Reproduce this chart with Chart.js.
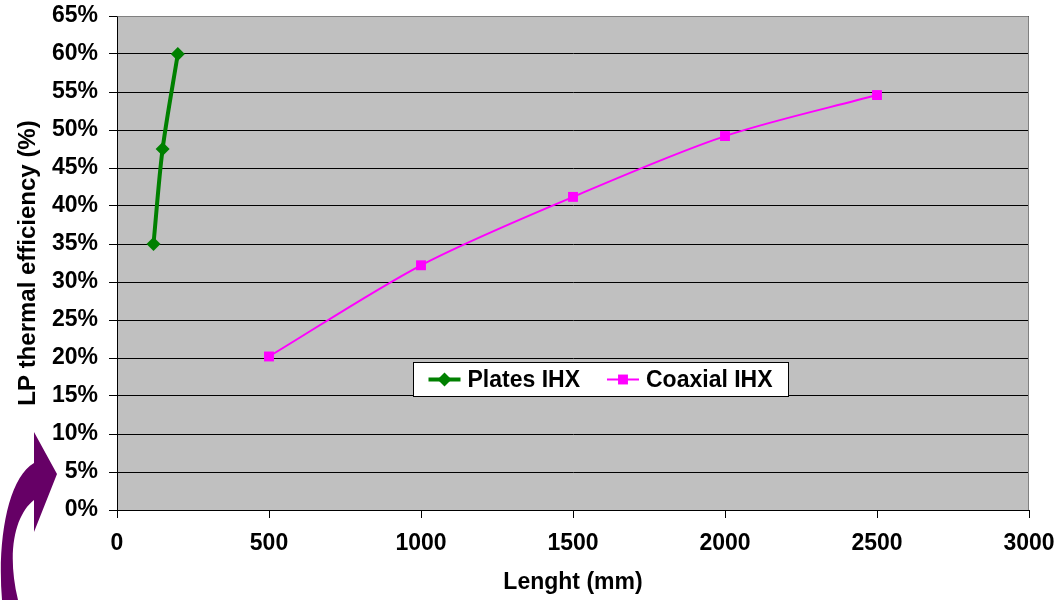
<!DOCTYPE html>
<html>
<head>
<meta charset="utf-8">
<script src="https://cdn.jsdelivr.net/npm/chart.js@4/dist/chart.umd.min.js"></script>
<style>
  html, body { margin: 0; padding: 0; background: #ffffff; }
  #wrap { width: 1063px; height: 600px; position: relative; }
</style>
</head>
<body>
<div id="wrap"><canvas id="c" width="1063" height="600"></canvas></div>
<script>
// Heat exchanger length (mm) against LP thermal efficiency (%)
const platesLength = [120, 150, 200];
const platesEfficiency = [35, 47.5, 60];
const coaxialLength = [500, 1000, 1500, 2000, 2500];
const coaxialEfficiency = [20.2, 32.2, 41.2, 49.2, 54.6];
const seriesNames = ['Plates IHX', 'Coaxial IHX'];
const xTitle = 'Lenght (mm)';
const yTitle = 'LP thermal efficiency (%)';

const FONT = "'Liberation Sans', Arial, sans-serif";

function pairs(xs, ys) { return xs.map((x, i) => ({ x: x, y: ys[i] })); }

// Grey plotting surface with a thin frame on the top and right
const plotBackground = {
  id: 'plotBackground',
  beforeDraw(chart) {
    const { ctx, chartArea: a } = chart;
    ctx.save();
    ctx.fillStyle = '#c0c0c0';
    ctx.fillRect(a.left, a.top, a.right - a.left, a.bottom - a.top);
    ctx.restore();
  },
  afterDatasetsDraw(chart) {
    const { ctx, chartArea: a } = chart;
    ctx.save();
    ctx.strokeStyle = '#808080';
    ctx.lineWidth = 1;
    ctx.beginPath();
    ctx.moveTo(Math.round(a.left) + 0.5, Math.round(a.top) + 0.5);
    ctx.lineTo(Math.round(a.right) - 0.5, Math.round(a.top) + 0.5);
    ctx.lineTo(Math.round(a.right) - 0.5, Math.round(a.bottom));
    ctx.stroke();
    ctx.restore();
  }
};

// Boxed legend sitting inside the plot area
const innerLegend = {
  id: 'innerLegend',
  afterDraw(chart) {
    const { ctx, chartArea: a } = chart;
    const w = a.right - a.left, h = a.bottom - a.top;
    const bx = Math.round(a.left + w * 0.325) + 0.5;
    const by = Math.round(a.top + h * 0.700) + 0.5;
    const bw = 375, bh = 34;
    ctx.save();
    ctx.fillStyle = '#ffffff';
    ctx.fillRect(bx, by, bw, bh);
    ctx.strokeStyle = '#000000';
    ctx.lineWidth = 1;
    ctx.strokeRect(bx, by, bw, bh);
    ctx.font = 'bold 23px ' + FONT;
    ctx.textBaseline = 'middle';
    ctx.textAlign = 'left';
    const cy = by + bh / 2;
    let x = bx + 15;
    chart.data.datasets.forEach((ds) => {
      ctx.strokeStyle = ds.borderColor;
      ctx.lineWidth = ds.borderWidth;
      ctx.beginPath();
      ctx.moveTo(x, cy);
      ctx.lineTo(x + 32, cy);
      ctx.stroke();
      ctx.fillStyle = ds.pointBackgroundColor;
      const r = ds.pointRadius;
      ctx.beginPath();
      if (ds.pointStyle === 'rectRot') {
        ctx.moveTo(x + 16, cy - r);
        ctx.lineTo(x + 16 + r, cy);
        ctx.lineTo(x + 16, cy + r);
        ctx.lineTo(x + 16 - r, cy);
        ctx.closePath();
      } else {
        const s = r * Math.SQRT1_2;
        ctx.rect(x + 16 - s, cy - s, 2 * s, 2 * s);
      }
      ctx.fill();
      ctx.fillStyle = '#000000';
      ctx.fillText(ds.label, x + 39, cy + 1);
      x += 39 + ctx.measureText(ds.label).width + 27;
    });
    ctx.restore();
  }
};

// Curved purple arrow in the lower left corner
const cornerArrow = {
  id: 'cornerArrow',
  afterDraw(chart) {
    const { ctx } = chart;
    const H = chart.height;
    ctx.save();
    ctx.fillStyle = '#660066';
    ctx.beginPath();
    ctx.moveTo(34, H - 168);
    ctx.lineTo(57, H - 126);
    ctx.lineTo(34, H - 68);
    ctx.lineTo(34, H - 100);
    ctx.bezierCurveTo(16, H - 86, 6, H - 50, 18, H);
    ctx.lineTo(2, H);
    ctx.bezierCurveTo(-3, H - 60, 8, H - 122, 34, H - 137);
    ctx.closePath();
    ctx.fill();
    ctx.restore();
  }
};

const tickFont = { family: FONT, size: 23, weight: 'bold' };

new Chart(document.getElementById('c'), {
  type: 'line',
  data: {
    datasets: [
      {
        label: seriesNames[0],
        data: pairs(platesLength, platesEfficiency),
        borderColor: '#008000',
        backgroundColor: '#008000',
        pointBackgroundColor: '#008000',
        pointBorderColor: '#008000',
        borderWidth: 4,
        pointStyle: 'rectRot',
        pointRadius: 7,
        pointBorderWidth: 0,
        tension: 0.3,
        fill: false
      },
      {
        label: seriesNames[1],
        data: pairs(coaxialLength, coaxialEfficiency),
        borderColor: '#ff00ff',
        backgroundColor: '#ff00ff',
        pointBackgroundColor: '#ff00ff',
        pointBorderColor: '#ff00ff',
        borderWidth: 2,
        pointStyle: 'rect',
        pointRadius: 7,
        pointBorderWidth: 0,
        tension: 0.3,
        fill: false
      }
    ]
  },
  options: {
    responsive: false,
    animation: false,
    layout: { padding: { top: 16, right: 34, left: 0, bottom: 0 } },
    plugins: {
      legend: { display: false },
      tooltip: { enabled: false }
    },
    scales: {
      x: {
        type: 'linear',
        min: 0,
        max: 3000,
        ticks: { stepSize: 500, color: '#000', font: tickFont, padding: 12, maxRotation: 0, callback: (v) => String(v) },
        grid: { drawOnChartArea: false, drawTicks: true, tickLength: 8, color: '#000', lineWidth: 1 },
        border: { color: '#000', width: 1 },
        title: { display: true, text: xTitle, color: '#000', font: tickFont, padding: { top: 0, bottom: 4 } },
        afterFit(scale) { scale.height = 90; scale.paddingLeft = 0; scale.paddingRight = 0; }
      },
      y: {
        type: 'linear',
        min: 0,
        max: 65,
        ticks: { stepSize: 5, color: '#000', font: tickFont, padding: 11, callback: (v) => v + '%' },
        grid: { color: '#000', lineWidth: 1, tickLength: 8, drawTicks: true },
        border: { color: '#000', width: 1 },
        title: { display: true, text: yTitle, color: '#000', font: { family: FONT, size: 24, weight: 'bold' }, padding: { top: 14, bottom: 0 } },
        afterFit(scale) { scale.width = 117; scale.paddingTop = 0; scale.paddingBottom = 0; }
      }
    }
  },
  plugins: [plotBackground, innerLegend, cornerArrow]
});
</script>
</body>
</html>
